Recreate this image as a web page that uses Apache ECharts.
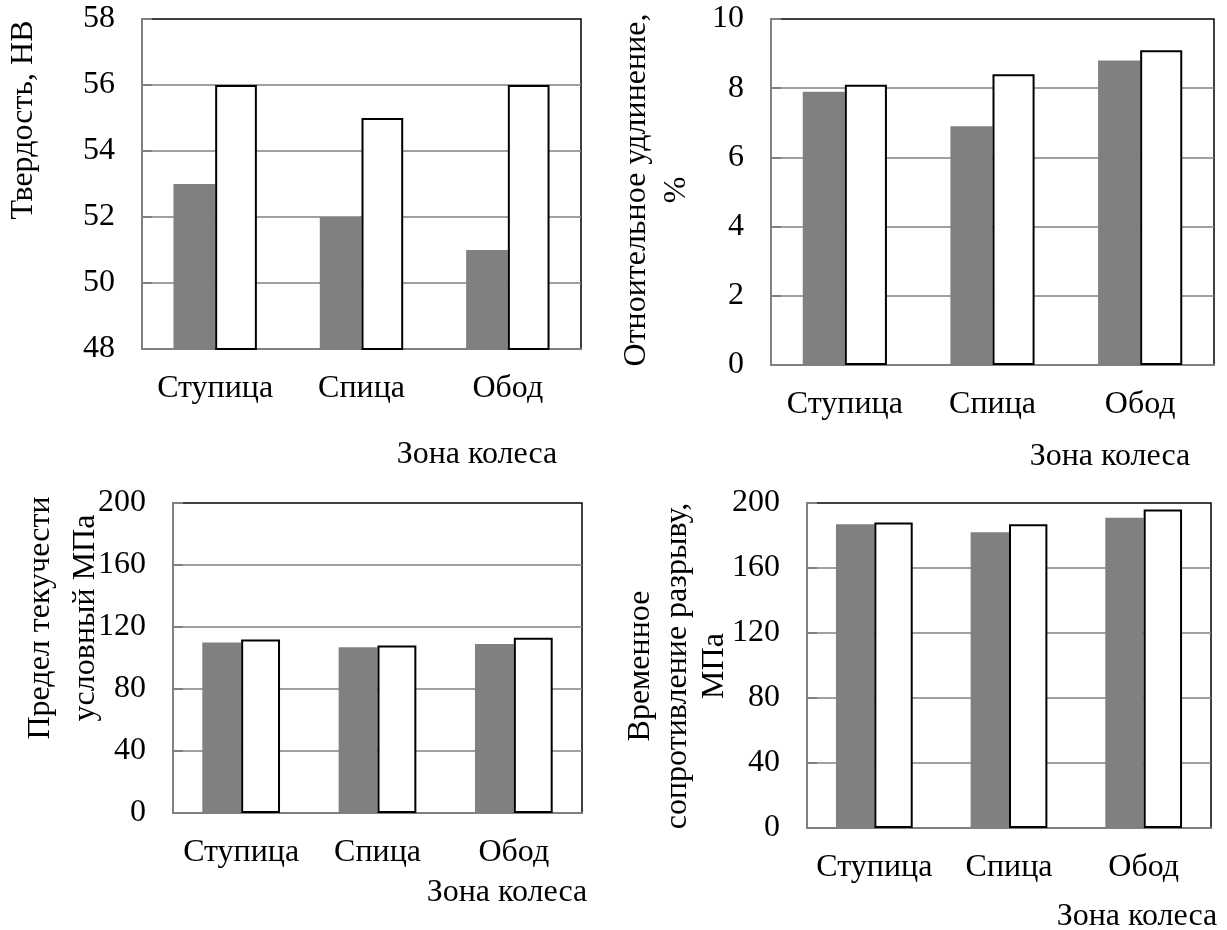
<!DOCTYPE html>
<html>
<head>
<meta charset="utf-8">
<script src="https://cdn.jsdelivr.net/npm/echarts@6/dist/echarts.min.js"></script>
<style>
  html, body { margin: 0; padding: 0; background: #fff; }
  #chart { width: 1227px; height: 930px; }
</style>
</head>
<body>
<div id="chart"></div>
<script>
// зоны колеса (общие для всех четырёх графиков)
const zones = ["Ступица", "Спица", "Обод"];

// твердость, НВ
const hardnessGray = [53, 52, 51];
const hardnessWhite = [56, 55, 56];
const hardnessTicks = [48, 58, 2]; // min, max, шаг

// относительное удлинение, %
const elongGray = [7.9, 6.9, 8.8];
const elongWhite = [8.1, 8.4, 9.1];
const elongTicks = [0, 10, 2];

// условный предел текучести, МПа
const yieldGray = [110, 107, 109];
const yieldWhite = [112, 108, 113];
const yieldTicks = [0, 200, 40];

// временное сопротивление разрыву, МПа
const strengthGray = [187, 182, 191];
const strengthWhite = [188, 187, 196];
const strengthTicks = [0, 200, 40];

const FONT = '"Liberation Serif", "Times New Roman", serif';
const FONT_SIZE = 32;
const GRAY = "#808080";

const grids = [
  { left: 142, top: 19, width: 439, height: 330 },
  { left: 771, top: 19, width: 443, height: 346 },
  { left: 173, top: 503, width: 409, height: 310 },
  { left: 807, top: 503, width: 404, height: 325 },
];

function xAxisFor(i) {
  return {
    type: "category",
    gridIndex: i,
    data: zones,
    axisLine: { lineStyle: { color: GRAY, width: 2 } },
    axisTick: { inside: true, length: 10, lineStyle: { color: GRAY, width: 2 } },
    axisLabel: { color: "#000", fontSize: FONT_SIZE, fontFamily: FONT, margin: 24, interval: 0 },
  };
}

function yAxisFor(i, ticks) {
  return {
    type: "value",
    gridIndex: i,
    min: ticks[0],
    max: ticks[1],
    interval: ticks[2],
    axisLine: { show: true, lineStyle: { color: GRAY, width: 2 } },
    axisTick: { show: true, inside: true, length: 10, lineStyle: { color: GRAY, width: 2 } },
    axisLabel: { color: "#000", fontSize: FONT_SIZE, fontFamily: FONT, margin: 27 },
    splitLine: {
      show: true,
      showMinLine: false,
      showMaxLine: false,
      lineStyle: { color: GRAY, width: 1.5 },
    },
  };
}

function barsFor(i, gray, white) {
  return [
    {
      type: "bar",
      xAxisIndex: i,
      yAxisIndex: i,
      data: gray,
      barGap: "0%",
      barCategoryGap: "43%",
      itemStyle: { color: GRAY },
      silent: true,
    },
    {
      type: "bar",
      xAxisIndex: i,
      yAxisIndex: i,
      data: white,
      barGap: "0%",
      barCategoryGap: "43%",
      itemStyle: { color: "#fff", borderColor: "#000", borderWidth: 2 },
      silent: true,
    },
  ];
}

function label(text, x, y, rotated, lineHeight) {
  return {
    type: "text",
    x: x,
    y: y,
    rotation: rotated ? Math.PI / 2 : 0,
    silent: true,
    style: {
      text: text,
      fill: "#000",
      fontSize: FONT_SIZE,
      fontFamily: FONT,
      lineHeight: lineHeight || 38,
      textAlign: "center",
      textVerticalAlign: "middle",
      align: "center",
      verticalAlign: "middle",
    },
  };
}

const myChart = echarts.init(document.getElementById("chart"), null, { renderer: "canvas" });

const option = {
  backgroundColor: "#fff",
  animation: false,
  grid: grids.map((g) => ({
    ...g,
    show: true,
    borderColor: "#000",
    borderWidth: 1.5,
    backgroundColor: "transparent",
  })),
  xAxis: [0, 1, 2, 3].map(xAxisFor),
  yAxis: [
    yAxisFor(0, hardnessTicks),
    yAxisFor(1, elongTicks),
    yAxisFor(2, yieldTicks),
    yAxisFor(3, strengthTicks),
  ],
  series: [
    ...barsFor(0, hardnessGray, hardnessWhite),
    ...barsFor(1, elongGray, elongWhite),
    ...barsFor(2, yieldGray, yieldWhite),
    ...barsFor(3, strengthGray, strengthWhite),
  ],
  graphic: [
    label("Твердость, НВ", 24, 120, true),
    label("Отноительное удлинение,\n%", 657, 190, true, 40),
    label("Предел текучести\nусловный МПа", 63, 618, true, 45),
    label("Временное\nсопротивление разрыву,\nМПа", 678, 666, true, 37),
    label("Зона колеса", 477, 455, false),
    label("Зона колеса", 1110, 457, false),
    label("Зона колеса", 507, 893, false),
    label("Зона колеса", 1137, 917, false),
  ],
};

myChart.setOption(option);
window.addEventListener("resize", () => myChart.resize());
</script>
</body>
</html>
